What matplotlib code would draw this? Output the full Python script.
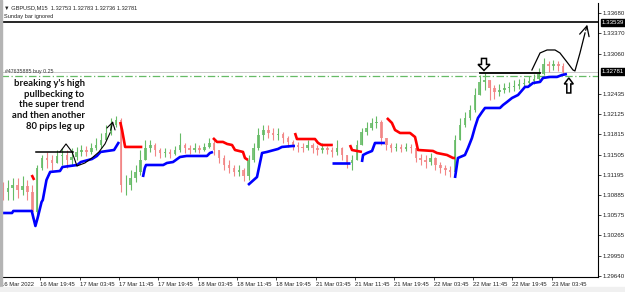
import matplotlib
matplotlib.use('Agg')
import matplotlib.pyplot as plt
import matplotlib.transforms as mtransforms
from matplotlib.patches import Rectangle, Polygon

# ---------------- data ----------------
# hourly candles; candle i sits at M15 bar index 4*i + 1.5
first_open = 1.30990
close = [1.30929, 1.30990, 1.31036, 1.30959, 1.31021, 1.30929, 1.30617, 1.31298, 1.31452, 1.31421,
         1.31375, 1.31483, 1.31498, 1.31421, 1.31467, 1.31545, 1.31575, 1.31545, 1.31606, 1.31652,
         1.31729, 1.31837, 1.31960, 1.32037, 1.31036, 1.31036, 1.31144, 1.31237, 1.31421, 1.31606,
         1.31652, 1.31575, 1.31529, 1.31545, 1.31514, 1.31575, 1.31652, 1.31606, 1.31575, 1.31606,
         1.31575, 1.31622, 1.31683, 1.31575, 1.31452, 1.31344, 1.31298, 1.31237, 1.31267, 1.31175,
         1.31421, 1.31606, 1.31806, 1.31883, 1.31837, 1.31806, 1.31821, 1.31760, 1.31699, 1.31652,
         1.31622, 1.31606, 1.31652, 1.31606, 1.31575, 1.31606, 1.31575, 1.31545, 1.31606, 1.31498,
         1.31375, 1.31421, 1.31652, 1.31852, 1.31913, 1.31991, 1.32006, 1.31760, 1.31652, 1.31606,
         1.31622, 1.31591, 1.31622, 1.31606, 1.31452, 1.31421, 1.31390, 1.31452, 1.31344, 1.31298,
         1.31267, 1.31237, 1.31729, 1.31960, 1.32068, 1.32191, 1.32422, 1.32623, 1.32653, 1.32530,
         1.32469, 1.32500, 1.32530, 1.32547, 1.32561, 1.32592, 1.32607, 1.32638, 1.32669, 1.32745,
         1.32899, 1.32869, 1.32899, 1.32869, 1.32781]
high = [1.31082, 1.31113, 1.31144, 1.31144, 1.31175, 1.31113, 1.31036, 1.31344, 1.31498, 1.31545,
        1.31498, 1.31575, 1.31606, 1.31575, 1.31606, 1.31622, 1.31652, 1.31637, 1.31683, 1.31760,
        1.31837, 1.31960, 1.32068, 1.32099, 1.32068, 1.31190, 1.31267, 1.31344, 1.31575, 1.31729,
        1.31729, 1.31683, 1.31606, 1.31606, 1.31591, 1.31637, 1.31837, 1.31683, 1.31652, 1.31683,
        1.31652, 1.31683, 1.31760, 1.31729, 1.31575, 1.31498, 1.31421, 1.31344, 1.31344, 1.31298,
        1.31498, 1.31683, 1.31913, 1.31960, 1.31960, 1.31913, 1.31913, 1.31852, 1.31791, 1.31729,
        1.31699, 1.31683, 1.31729, 1.31683, 1.31652, 1.31683, 1.31637, 1.31622, 1.31729, 1.31622,
        1.31498, 1.31498, 1.31729, 1.31913, 1.32006, 1.32068, 1.32099, 1.32037, 1.31729, 1.31683,
        1.31683, 1.31668, 1.31683, 1.31668, 1.31575, 1.31514, 1.31498, 1.31529, 1.31467, 1.31390,
        1.31344, 1.31329, 1.31806, 1.32068, 1.32160, 1.32268, 1.32530, 1.32730, 1.32761, 1.32653,
        1.32576, 1.32592, 1.32607, 1.32623, 1.32653, 1.32669, 1.32684, 1.32715, 1.32745, 1.32838,
        1.32992, 1.32946, 1.32961, 1.32946, 1.32915]
low = [1.30805, 1.30805, 1.30805, 1.30836, 1.30882, 1.30805, 1.30528, 1.30497, 1.31267, 1.31298,
       1.31267, 1.31375, 1.31344, 1.31298, 1.31344, 1.31421, 1.31483, 1.31483, 1.31514, 1.31575,
       1.31606, 1.31729, 1.31806, 1.31929, 1.30929, 1.30882, 1.30959, 1.31082, 1.31190, 1.31498,
       1.31545, 1.31483, 1.31452, 1.31467, 1.31452, 1.31498, 1.31545, 1.31529, 1.31514, 1.31545,
       1.31529, 1.31560, 1.31606, 1.31498, 1.31375, 1.31267, 1.31221, 1.31175, 1.31175, 1.31098,
       1.31113, 1.31390, 1.31575, 1.31729, 1.31760, 1.31729, 1.31729, 1.31683, 1.31622, 1.31575,
       1.31545, 1.31545, 1.31575, 1.31529, 1.31498, 1.31529, 1.31514, 1.31467, 1.31498, 1.31421,
       1.31298, 1.31267, 1.31421, 1.31652, 1.31806, 1.31883, 1.31913, 1.31652, 1.31575, 1.31545,
       1.31560, 1.31545, 1.31560, 1.31529, 1.31390, 1.31344, 1.31298, 1.31344, 1.31267, 1.31221,
       1.31190, 1.31159, 1.31206, 1.31729, 1.31929, 1.32037, 1.32160, 1.32422, 1.32500, 1.32345,
       1.32361, 1.32407, 1.32453, 1.32469, 1.32484, 1.32515, 1.32530, 1.32561, 1.32592, 1.32653,
       1.32730, 1.32776, 1.32807, 1.32792, 1.32736]

# supertrend segments: (M15 bar index list, price list)
st_up_1 = ([1, 9, 10, 25, 28, 30, 33, 34, 37, 40, 48, 50, 62, 65, 74, 78, 81, 92, 94, 96],
           [1.30605, 1.30605, 1.30636, 1.30636, 1.30405, 1.30543, 1.30774, 1.30805, 1.31113, 1.31237,
            1.31252, 1.31313, 1.31344, 1.31390, 1.31436, 1.31483, 1.31545, 1.31575, 1.31637, 1.31699])
st_dn_1 = ([25, 27], [1.31190, 1.31113])
st_dn_2 = ([97, 98.5, 101, 115], [1.32006, 1.31883, 1.31622, 1.31622])
st_up_2 = ([115.5, 117, 118, 132, 135, 140, 145.6, 151, 167.6, 170, 172.5],
           [1.31159, 1.31298, 1.31344, 1.31344, 1.31375, 1.31390, 1.31467, 1.31483, 1.31483, 1.31529, 1.31545])
st_dn_3 = ([172.5, 175.8, 180.6, 184, 188, 190.4, 196.9, 198.5, 201],
           [1.31760, 1.31699, 1.31699, 1.31668, 1.31652, 1.31575, 1.31545, 1.31452, 1.31421])
st_up_3 = ([201, 208.3, 212.4, 216.4, 225.4, 228.6, 237.6, 239.2],
           [1.31036, 1.31159, 1.31529, 1.31545, 1.31591, 1.31622, 1.31637, 1.31637])
st_dn_4 = ([239.2, 240.8, 255.5, 258, 261, 270],
           [1.31837, 1.31744, 1.31744, 1.31683, 1.31652, 1.31652])
st_up_4 = ([269.3, 284], [1.31375, 1.31375])
st_dn_5 = ([284, 285.6, 293.7], [1.31652, 1.31575, 1.31545])
st_up_5 = ([293.7, 294.6, 297.8, 301.9, 304.3, 312.4],
           [1.31390, 1.31498, 1.31529, 1.31560, 1.31683, 1.31683])
st_dn_6 = ([314, 318.1, 320.6, 324.7, 332.8, 336.9, 339.3, 351.5, 354.7, 362.9, 367.8, 369.4],
           [1.32068, 1.31991, 1.31883, 1.31837, 1.31837, 1.31775, 1.31575, 1.31560, 1.31529, 1.31498,
            1.31452, 1.31452])
st_up_6 = ([369.4, 371.8, 377.5, 380, 383.2, 385.7, 388.1, 391.4, 393.8, 406, 408.5, 411.7, 415.8,
            420.7, 426.4, 428.8, 432.9, 438.6, 441, 446.7, 452.4, 456.5, 460.5],
           [1.31144, 1.31452, 1.31498, 1.31606, 1.31760, 1.31929, 1.32068, 1.32160, 1.32222, 1.32222,
            1.32268, 1.32314, 1.32376, 1.32422, 1.32547, 1.32547, 1.32607, 1.32623, 1.32684, 1.32700,
            1.32700, 1.32730, 1.32745])

# hand-drawn annotations (bar, price)
left_hline = ([28.5, 58.6], [1.31545, 1.31545])
left_curve = ([48, 52.9, 57.8, 61.8, 68.3, 74, 79.7, 84.6, 88.7],
              [1.31545, 1.31668, 1.31545, 1.31329, 1.31375, 1.31452, 1.31545, 1.31668, 1.31837])
left_arrow_tip = (91.6, 1.32060)
right_hline = ([389.8, 438.6], [1.32761, 1.32761])
right_curve = ([432, 438.6, 444.3, 450.8, 454.8, 460.5, 465.4, 467, 471.1, 475.2],
               [1.32807, 1.33069, 1.33115, 1.33115, 1.33069, 1.32930, 1.32807, 1.32792, 1.33069, 1.33377])
right_arrow_tip = (477.6, 1.33546)
down_arrow_tip = (393, 1.32800)   # hollow arrow pointing down
up_arrow_tip = (462, 1.32684)     # hollow arrow pointing up

level_line = 1.33539
buy_level = 1.32720
bid = 1.32781

time_ticks = [0, 32, 64, 96, 128, 160, 192, 224, 256, 288, 320, 352, 384, 416, 448]
time_labels = ['16 Mar 2022', '16 Mar 19:45', '17 Mar 03:45', '17 Mar 11:45', '17 Mar 19:45',
               '18 Mar 03:45', '18 Mar 11:45', '18 Mar 19:45', '21 Mar 03:45', '21 Mar 11:45',
               '21 Mar 19:45', '22 Mar 03:45', '22 Mar 11:45', '22 Mar 19:45', '23 Mar 03:45']
price_ticks = [1.33680, 1.33370, 1.33060, 1.32435, 1.32125, 1.31815, 1.31505,
               1.31195, 1.30885, 1.30575, 1.30265, 1.29950, 1.29640]
price_labels = ['1.33680', '1.33370', '1.33060', '1.32435', '1.32125', '1.31815', '1.31505',
                '1.31195', '1.30885', '1.30575', '1.30265', '1.29950', '1.29640']

# ---------------- drawing ----------------
FONT = ['Liberation Sans', 'DejaVu Sans']
plt.rcParams['font.family'] = FONT

W, H = 625, 292
fig = plt.figure(figsize=(W / 100, H / 100), dpi=100)
fig.patch.set_facecolor('white')
ax_l, ax_r, ax_t, ax_b = 1.0, 598.0, 2.7, 276.7
ax = fig.add_axes([ax_l / W, 1 - ax_b / H, (ax_r - ax_l) / W, (ax_b - ax_t) / H])
ax.set_xlim(0, (ax_r - ax_l) / 1.229)
ax.set_ylim(1.29624, 1.33843)

# grey strips
fig.patches.append(Rectangle((0, 0), 2 / W, 1, transform=fig.transFigure, color='#b4b4b4', zorder=0))
fig.patches.append(Rectangle((0, 0), 1, 5 / H, transform=fig.transFigure, color='#f0f0f0', zorder=0))

green = '#66bb66'
red = '#f28686'
opens = [first_open] + close[:-1]
for i in range(len(close)):
    xb = 4 * i + 1.5
    o, c = opens[i], close[i]
    col = green if c >= o else red
    hi = max(high[i], o, c)
    lo = min(low[i], o, c)
    ax.vlines(xb, lo, hi, color=col, lw=0.8, zorder=2)
    ax.add_patch(Rectangle((xb - 1.0, min(o, c)), 2.0, max(abs(c - o), 0.00004),
                           facecolor=col, edgecolor='none', alpha=0.85, zorder=2))

for seg in [st_up_1, st_up_2, st_up_3, st_up_4, st_up_5, st_up_6]:
    ax.plot(seg[0], seg[1], color='#0000ff', lw=1.9, zorder=4, solid_capstyle='butt')
for seg in [st_dn_1, st_dn_2, st_dn_3, st_dn_4, st_dn_5, st_dn_6]:
    ax.plot(seg[0], seg[1], color='#ff0000', lw=1.9, zorder=4, solid_capstyle='butt')

# horizontal levels
ax.axhline(level_line, color='black', lw=1.2, zorder=5)
ax.axhline(bid, color='#c0c0c0', lw=0.6, zorder=1)
ax.axhline(buy_level, color='#66bb66', lw=0.9, ls=(0, (6, 2, 1, 2)), zorder=1)
ax.text(3, buy_level + 0.00018, '#47635885 buy 0.25', fontsize=3.8, color='#333333',
        va='bottom', ha='left', zorder=6)

# hand-drawn marks
ax.plot(*left_hline, color='black', lw=1.1, zorder=6)
ax.plot(*left_curve, color='black', lw=0.8, zorder=6)
ax.annotate('', xy=left_arrow_tip, xytext=(left_curve[0][-1], left_curve[1][-1]),
            arrowprops=dict(arrowstyle='->,head_length=0.5,head_width=0.3', color='black', lw=0.8), zorder=6)
ax.plot(*right_hline, color='black', lw=1.3, zorder=6)
ax.plot(*right_curve, color='black', lw=0.9, zorder=6)
ax.annotate('', xy=right_arrow_tip, xytext=(right_curve[0][-1], right_curve[1][-1]),
            arrowprops=dict(arrowstyle='->,head_length=0.7,head_width=0.35', color='black', lw=0.9), zorder=6)

# hollow block arrows, shapes in pixels relative to the tip
down_shape = [(0, 0), (-6, 6), (-2.5, 6), (-2.5, 12), (2.5, 12), (2.5, 6), (6, 6)]
up_shape = [(0, 0), (-4.5, -6), (-2, -6), (-2, -15), (2, -15), (2, -6), (4.5, -6)]
for tip, shape in [(down_arrow_tip, down_shape), (up_arrow_tip, up_shape)]:
    tr = mtransforms.Affine2D() + mtransforms.ScaledTranslation(tip[0], tip[1], ax.transData)
    ax.add_patch(Polygon(shape, closed=True, fc='white', ec='black', lw=1.1,
                         transform=tr, zorder=7, clip_on=False))

# annotation text
ax.text(68, 1.32670, "breaking y's high\npullbecking to\nthe super trend\nand then another\n80 pips leg up",
        fontsize=6.8, fontweight='bold', family=['Lato', 'DejaVu Sans'], ha='right', va='top',
        linespacing=1.25, color='#111111', zorder=6)

# header
fig.text(4 / W, 1 - 8 / H, '\u25BC GBPUSD,M15  1.32753 1.32783 1.32736 1.32781', fontsize=4.1,
         va='center', ha='left', family=FONT, color='#222222')
fig.text(4 / W, 1 - 16.5 / H, 'Sunday bar ignored', fontsize=4.1, va='center', ha='left',
         family=FONT, color='#222222')

# axes styling
for s in ['top', 'left']:
    ax.spines[s].set_visible(False)
ax.spines['right'].set_color('black')
ax.spines['bottom'].set_color('black')
ax.spines['right'].set_linewidth(0.8)
ax.spines['bottom'].set_linewidth(0.8)
ax.yaxis.tick_right()
ax.set_yticks(price_ticks)
ax.set_yticklabels(price_labels)
ax.tick_params(axis='y', length=2, width=0.6, pad=1.5, labelsize=4.4, colors='#222222')
ax.set_xticks(time_ticks)
ax.set_xticklabels(time_labels)
for lab in ax.get_xticklabels():
    lab.set_ha('left')
ax.tick_params(axis='x', length=2.5, width=0.6, pad=1.2, labelsize=4.2, colors='#222222')

# price boxes on axis
trans = mtransforms.blended_transform_factory(ax.transAxes, ax.transData)
for p, txt in [(level_line, '1.33539'), (bid, '1.32781')]:
    ax.text(1.006, p, txt, transform=trans, fontsize=4.4, color='white', va='center', ha='left',
            bbox=dict(boxstyle='square,pad=0.15', fc='black', ec='black'), zorder=10, clip_on=False)

fig.savefig('out.png', dpi=100, facecolor='white')
